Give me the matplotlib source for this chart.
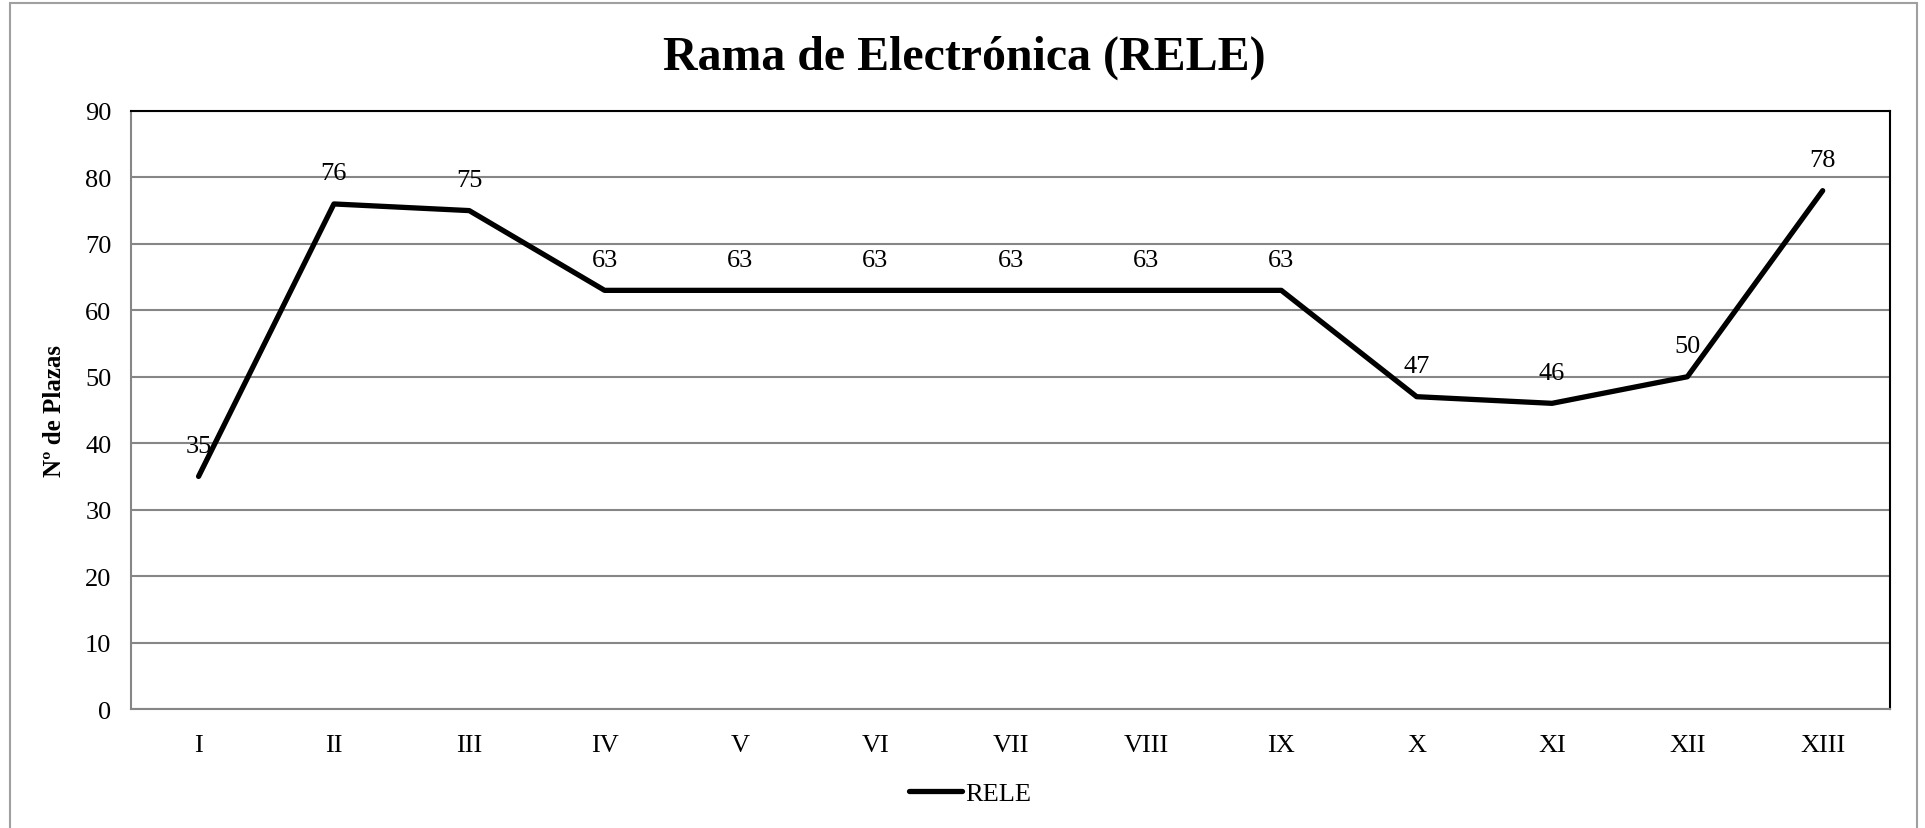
import matplotlib
matplotlib.use("Agg")
import matplotlib.pyplot as plt
from matplotlib.patches import Rectangle

plt.rcParams['font.family'] = ['Liberation Serif', 'DejaVu Serif']

# data
categories = ["I", "II", "III", "IV", "V", "VI", "VII", "VIII", "IX", "X", "XI", "XII", "XIII"]
plazas = [35, 76, 75, 63, 63, 63, 63, 63, 63, 47, 46, 50, 78]
series_name = "RELE"
title = "Rama de Electrónica (RELE)"
y_label = "Nº de Plazas"
y_ticks = list(range(0, 91, 10))

fig = plt.figure(figsize=(19.25, 8.29), dpi=100)
ax = fig.add_axes([0.068, 0.1435, 0.914, 0.7215])

# outer chart frame (open at the bottom)
fig.patches.append(Rectangle((0.005, -0.05), 0.991, 1.045, transform=fig.transFigure,
                             fill=False, edgecolor="#a0a0a0", linewidth=1.5))

xs = list(range(len(categories)))
ax.plot(xs, plazas, color="black", linewidth=3.8, solid_capstyle="round",
        solid_joinstyle="round", label=series_name, zorder=3)

for x, v in zip(xs, plazas):
    ax.annotate(str(v), (x, v), xytext=(0, 22), textcoords="offset points",
                ha="center", va="center", fontsize=19)

ax.set_xlim(-0.5, len(categories) - 0.5)
ax.set_ylim(0, 90)
ax.set_yticks(y_ticks)
ax.set_xticks(xs)
ax.set_xticklabels(categories)
ax.tick_params(axis="both", length=0, labelsize=19)
ax.tick_params(axis="x", pad=18)
ax.tick_params(axis="y", pad=14)
ax.yaxis.grid(True, color="#868686", linewidth=1.5)
ax.set_axisbelow(True)

for side in ["top", "right"]:
    ax.spines[side].set_color("black")
    ax.spines[side].set_linewidth(1.5)
for side in ["left", "bottom"]:
    ax.spines[side].set_color("#868686")
    ax.spines[side].set_linewidth(1.5)

ax.set_ylabel(y_label, fontsize=18, fontweight="bold", labelpad=14)
fig.text(0.501, 0.93, title, ha="center", va="center", fontsize=34.5, fontweight="bold")

fig.legend(loc="center", bbox_to_anchor=(0.504, 0.042), frameon=False, fontsize=19,
           handlelength=2.0, handletextpad=0.1)

fig.savefig("out.png", dpi=100)
